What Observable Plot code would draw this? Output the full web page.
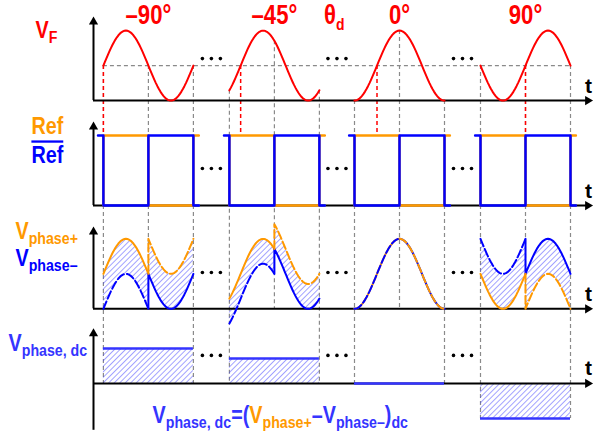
<!DOCTYPE html>
<html>
<head>
<meta charset="utf-8">
<script src="https://cdn.jsdelivr.net/npm/d3@7"></script>
<script src="https://cdn.jsdelivr.net/npm/@observablehq/plot@0.6"></script>
<style>
  body { margin: 0; background: #fff; }
  #chart svg { display: block; }
</style>
</head>
<body>
<div id="chart"></div>
<script>
// Phase of the feedback signal VF relative to Ref for each snapshot (degrees)
const phases = [-90, -45, 0, 90];
const phaseLabels = ["–90°", "–45°", "0°", "90°"];
// Start of each snapshot on the time axis, in Ref periods
const segmentStarts = [0.11, 1.51, 2.9, 4.3];
// DC value of (Vphase+ − Vphase−) for each snapshot, in units of the VF amplitude
const dcLevels = [1, 0.71, 0, -1];
// Row labels
const rowLabels = ["V_{F}", "Ref", "~{Ref}", "V_{phase+}", "V_{phase–}", "V_{phase, dc}"];
const formula = "V_{phase, dc}=(<o>V_{phase+}<b>–V_{phase–})_{dc}";
const gapLabel = "θ_{d}";
const axisLetter = "t";

const RED = "#ff0000", ORANGE = "#ff9900", BLUE = "#0000ff", DCBLUE = "#3535ff", GRID = "#8a8a8a";
const FONT = "Liberation Sans, Arial, Helvetica, sans-serif";

// Layout: one y unit is one VF amplitude; each panel sits on its own row
const W = 594, H = 437, UNIT = 35, PERIOD = 90, ORIGIN = 93;
const row = {vf: -1.86, ref: -4.86, ph: -7.81, dc: -10.94};
const tEnd = 5.55;

// Feedback waveform over one Ref period (u in [0, 1])
const vf = (theta, u) => Math.sin(2 * Math.PI * u - (theta + 90) * Math.PI / 180);

const N = 60;
const seg = phases.map((theta, i) => ({i, theta, s: segmentStarts[i], dc: dcLevels[i]}));

// VF traces
const vfPts = [];
seg.forEach(d => { for (let k = 0; k <= N; k++) vfPts.push({i: d.i, t: d.s + k / N, y: row.vf + vf(d.theta, k / N)}); });

// Ref and its complement (square waves)
const refPts = [], refBarPts = [];
seg.forEach(d => {
  const hi = row.ref + 1, lo = row.ref - 1, s = d.s;
  [[s, lo], [s, hi], [s + .5, hi], [s + .5, lo], [s + 1, lo], [s + 1, hi], [s + 1.06, hi]]
    .forEach(([t, y]) => refPts.push({i: d.i, t, y}));
  [[s - .06, hi], [s, hi], [s, lo], [s + .5, lo], [s + .5, hi], [s + 1, hi], [s + 1, lo], [s + 1.06, lo]]
    .forEach(([t, y]) => refBarPts.push({i: d.i, t, y}));
});

// Vphase+ / Vphase−: the switched node follows VF, the other one is offset by the DC level
const plusSolid = [], minusSolid = [], plusDashed = [], minusDashed = [], band = [];
seg.forEach(d => {
  const D = d.dc, base = row.ph;
  for (let k = 0; k <= N / 2; k++) {
    const u = k / N, v = vf(d.theta, u), t = d.s + u;
    plusSolid.push({i: d.i, t, y: base + v});
    minusDashed.push({i: d.i, t, y: base + v - D});
    band.push({key: d.i + "a", t, y1: base + v - D, y2: base + v});
  }
  const vh = vf(d.theta, .5);
  minusSolid.push({i: d.i, t: d.s + .5, y: base + vh - D});
  plusDashed.push({i: d.i, t: d.s + .5, y: base + vh});
  for (let k = N / 2; k <= N; k++) {
    const u = k / N, v = vf(d.theta, u), t = d.s + u;
    minusSolid.push({i: d.i, t, y: base + v});
    plusDashed.push({i: d.i, t, y: base + v + D});
    band.push({key: d.i + "b", t, y1: base + v, y2: base + v + D});
  }
});

// Dashed guides
const guides = [];
seg.forEach(d => {
  [0, 1].forEach(u => guides.push({t: d.s + u, y1: row.vf + vf(d.theta, u), y2: row.dc + Math.min(0, d.dc)}));
  guides.push({t: d.s + .5, y1: row.vf + vf(d.theta, .5), y2: row.ph - 1});
});
const crossings = seg.map(d => ({t: d.s + (((d.theta + 90) / 360) % 1 + 1) % 1}));

// Axes
const axes = [
  {base: row.vf - 1, top: row.vf + 1.4, bottom: row.vf - 1},
  {base: row.ref - 1, top: row.ref + 1.4, bottom: row.ref - 1},
  {base: row.ph - 1, top: row.ph + 1.35, bottom: row.ph - 1},
  {base: row.dc, top: row.dc + 1.57, bottom: row.dc - 1.34}
];
const headUp = 5.2 / UNIT, headRight = 5.2 / PERIOD;

// Ellipses between snapshots
const dotRows = [row.vf + .2, row.ref + .06, row.ph + .04, row.dc + .8];
const ellipsis = [];
for (let g = 0; g < 3; g++) {
  const c = (segmentStarts[g] + 1 + segmentStarts[g + 1]) / 2;
  dotRows.forEach(y => [-.1, 0, .1].forEach(o => ellipsis.push({t: c + o, y})));
}
const gap23 = (segmentStarts[1] + 1 + segmentStarts[2]) / 2;

const leftLabels = [
  {text: rowLabels[0], t: -0.644, y: row.vf + 1.0, c: RED},
  {text: rowLabels[1], t: -0.69, y: row.ref + 1.26, c: ORANGE},
  {text: rowLabels[2], t: -0.69, y: row.ref + 0.43, c: BLUE},
  {text: rowLabels[3], t: -0.867, y: row.ph + 1.21, c: ORANGE},
  {text: rowLabels[4], t: -0.867, y: row.ph + 0.44, c: BLUE},
  {text: rowLabels[5], t: -0.944, y: row.dc + 1.15, c: DCBLUE},
  {text: formula, t: 0.656, y: row.dc - 0.92, c: DCBLUE}
];
const thetaText = seg.map(d => ({text: phaseLabels[d.i], t: d.s + .5}))
  .concat([{text: gapLabel, t: gap23 - .03}]);

const dash = {stroke: GRID, strokeWidth: 1.2, strokeDasharray: "4,3"};

const chart = Plot.plot({
  width: W, height: H, margin: 0,
  x: {domain: [-ORIGIN / PERIOD, (W - ORIGIN) / PERIOD], range: [0, W], axis: null},
  y: {domain: [-H / UNIT, 0], range: [H, 0], axis: null},
  style: {background: "white", overflow: "visible"},
  marks: [
    Plot.ruleY([row.vf], {x1: segmentStarts[0], x2: segmentStarts[3] + 1, ...dash}),
    Plot.ruleX(guides, {x: "t", y1: "y1", y2: "y2", ...dash}),
    Plot.ruleX(crossings, {x: "t", y1: row.vf, y2: row.ref + 1, stroke: RED, strokeWidth: 1.5, strokeDasharray: "4,3"}),
    Plot.areaY(band, {x: "t", y1: "y1", y2: "y2", z: "key", fill: "url(#hatch)", curve: "linear"}),
    Plot.rect(seg, {x1: "s", x2: d => d.s + 1, y1: row.dc, y2: d => row.dc + d.dc, fill: "url(#hatch)"}),
    // axes
    Plot.ruleX(axes, {x: 0, y1: "bottom", y2: d => d.top - headUp, stroke: "black", strokeWidth: 2}),
    Plot.ruleY(axes, {y: "base", x1: 0, x2: tEnd - headRight, stroke: "black", strokeWidth: 2}),
    Plot.dot(axes, {x: 0, y: d => d.top - headUp, symbol: "triangle", r: 3.4, fill: "black"}),
    Plot.dot(axes, {x: tEnd - headRight, y: "base", symbol: "triangle", r: 3.4, fill: "black", rotate: 90}),
    // Ref / Ref-bar
    Plot.line(refPts, {x: "t", y: "y", z: "i", stroke: ORANGE, strokeWidth: 2.5, curve: "linear"}),
    Plot.line(refBarPts, {x: "t", y: "y", z: "i", stroke: BLUE, strokeWidth: 2.5, curve: "linear"}),
    // VF
    Plot.line(vfPts, {x: "t", y: "y", z: "i", stroke: RED, strokeWidth: 2}),
    // Vphase+ / Vphase−
    Plot.line(plusSolid, {x: "t", y: "y", z: "i", stroke: ORANGE, strokeWidth: 2}),
    Plot.line(minusSolid, {x: "t", y: "y", z: "i", stroke: BLUE, strokeWidth: 2}),
    Plot.line(minusDashed, {x: "t", y: "y", z: "i", stroke: BLUE, strokeWidth: 2, strokeDasharray: "8,3"}),
    Plot.line(plusDashed, {x: "t", y: "y", z: "i", stroke: ORANGE, strokeWidth: 2, strokeDasharray: "8,3"}),
    // DC levels
    Plot.ruleY(seg, {y: d => row.dc + d.dc, x1: "s", x2: d => d.s + 1, stroke: DCBLUE, strokeWidth: 2.5}),
    Plot.dot(ellipsis, {x: "t", y: "y", r: 1.8, fill: "black"}),
    // text
    Plot.text(axes, {x: 5.5, y: d => d.base + .42, text: () => axisLetter, fill: "black", fontSize: 21, fontWeight: "bold", fontFamily: FONT}),
    Plot.text(thetaText, {x: "t", y: row.vf + 1.43, text: "text", fill: RED, fontSize: 27, fontWeight: "bold", fontFamily: FONT}),
    Plot.text(leftLabels, {x: "t", y: "y", text: "text", fill: "c", fontSize: 23, fontWeight: "bold", fontFamily: FONT, textAnchor: "start"})
  ]
});

// Hatch pattern used by the difference areas
const ns = "http://www.w3.org/2000/svg";
const defs = document.createElementNS(ns, "defs");
defs.innerHTML = `<pattern id="hatch" patternUnits="userSpaceOnUse" width="3.9" height="3.9" patternTransform="rotate(45)">
  <line x1="0" y1="0" x2="0" y2="3.9" stroke="#3a3aff" stroke-width="1.1" stroke-opacity="0.85"/></pattern>`;
chart.insertBefore(defs, chart.firstChild);

// Rich text: _{..} subscript, ~{..} overline, <o>/<b> colour switch
function richText(el, subSize, shift, sx) {
  const src = el.textContent;
  el.textContent = "";
  const re = /_\{([^}]*)\}|~\{([^}]*)\}|<(o|b)>|([^_~<]+)/g;
  let m, color = null, inSub = false;
  while ((m = re.exec(src))) {
    if (m[3]) { color = m[3] === "o" ? ORANGE : DCBLUE; continue; }
    const ts = document.createElementNS(ns, "tspan");
    if (color) ts.setAttribute("fill", color);
    if (m[1] !== undefined) {
      ts.textContent = m[1];
      ts.setAttribute("font-size", subSize);
      if (!inSub) ts.setAttribute("dy", shift);
      inSub = true;
    } else {
      ts.textContent = m[2] !== undefined ? m[2] : m[4];
      if (m[2] !== undefined) ts.setAttribute("text-decoration", "overline");
      if (inSub) ts.setAttribute("dy", -shift);
      inSub = false;
    }
    el.appendChild(ts);
  }
  let tr = el.getAttribute("transform");
  if (!tr) {
    const x = +el.getAttribute("x") || 0, y = +el.getAttribute("y") || 0;
    el.removeAttribute("x"); el.removeAttribute("y");
    tr = `translate(${x},${y})`;
  }
  el.setAttribute("transform", `${tr} scale(${sx},1)`);
}
const rowSet = new Set(leftLabels.map(d => d.text));
const thetaSet = new Set(thetaText.map(d => d.text));
chart.querySelectorAll("text").forEach(el => {
  const s = el.textContent;
  if (rowSet.has(s)) richText(el, 16.5, 5, 0.86);
  else if (thetaSet.has(s)) richText(el, 17, 6, 0.82);
});

document.getElementById("chart").appendChild(chart);
</script>
</body>
</html>
